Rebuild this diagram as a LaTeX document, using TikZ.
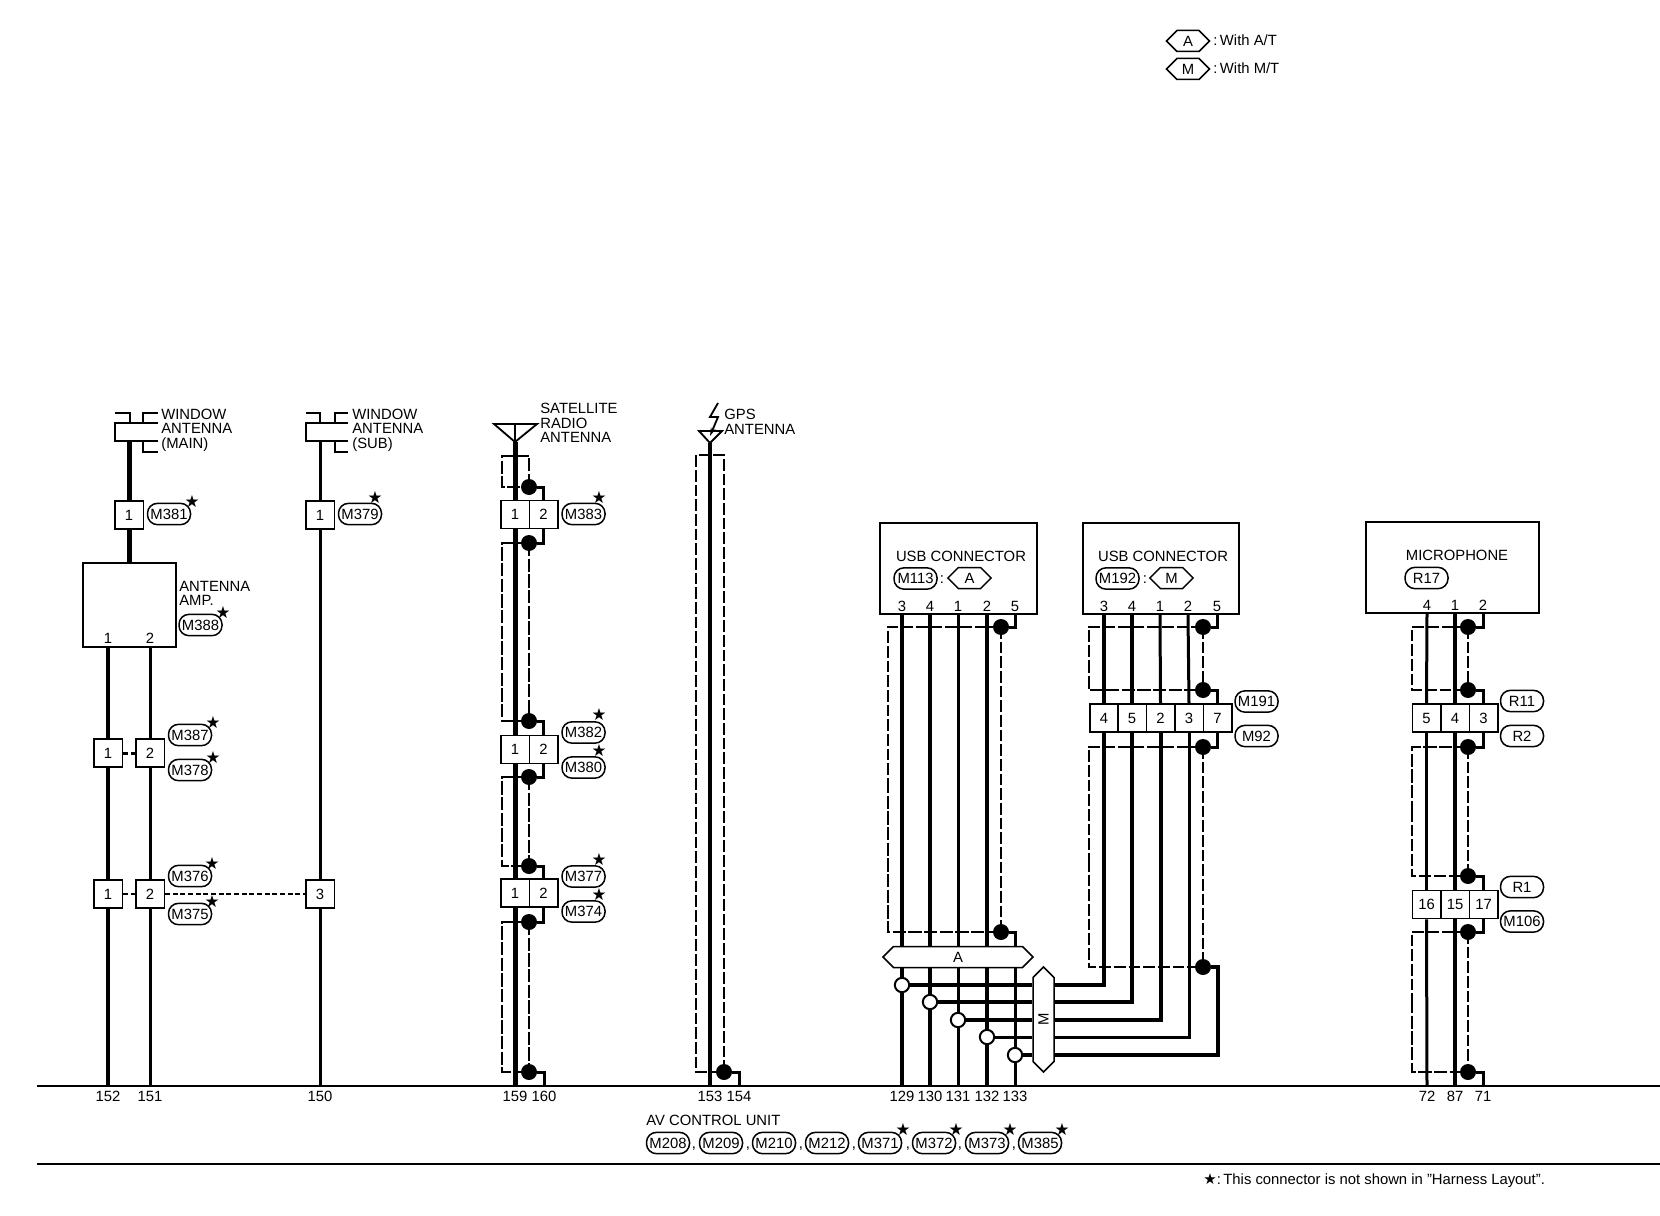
\documentclass[tikz,border=0pt]{standalone}
\usepackage{fontspec}
\setmainfont{Liberation Sans}
\newfontfamily\symfont{DejaVu Sans}
\usetikzlibrary{shapes, shapes.symbols, arrows.meta, positioning, calc}

\begin{document}
\begin{tikzpicture}[
  x=0.6pt, y=-0.6pt,
  every node/.style={font=\fontsize{8.9}{8.7}\selectfont, inner sep=0pt},
  cell/.style={draw, fill=white, line width=0.9pt, minimum width=17.1pt, minimum height=16.8pt},
  pill/.style={draw, fill=white, line width=0.9pt, rounded corners=6pt, minimum width=25.8pt, minimum height=12.8pt},
  hexa/.style={draw, fill=white, line width=0.9pt, signal, signal to=west and east, signal pointer angle=90, minimum height=12.6pt},
  unitbox/.style={draw, line width=1.3pt},
  starmark/.style={font=\symfont\fontsize{10}{10}\selectfont},
  txt/.style={anchor=west, align=left},
  dotj/.style={circle, fill=black, minimum size=9.6pt},
  doto/.style={circle, draw, fill=white, line width=1.2pt, minimum size=8.6pt},
  heavy/.style={line width=3pt},
  mid/.style={line width=2.4pt},
  lite/.style={line width=1.8pt},
  shieldthin/.style={line width=0.7pt, dash pattern=on 8pt off 1.4pt},
  shieldthick/.style={line width=1.3pt, dash pattern=on 7pt off 1.8pt},
  rail/.style={line width=1.1pt}
]
  \useasboundingbox (0,0) rectangle (1660,1216);

  % Legend
  \node[hexa, minimum width=25.8pt] (lgA) at (1188,41) {A};
  \node[hexa, minimum width=25.8pt] (lgM) at (1188,69) {M};
  \node[txt] (lgAt) at (1213,40) {:\hspace{1.5pt}With A/T};
  \node[txt] (lgMt) at (1213,68) {:\hspace{1.5pt}With M/T};

  % Bottom lines
  \coordinate (baseL) at (37,1086);
  \coordinate (baseR) at (1660,1086);
  \coordinate (footL) at (37,1164);
  \coordinate (footR) at (1660,1164);
  \draw[line width=0.9pt] (baseL) -- (baseR);
  \draw[line width=1.4pt] (footL) -- (footR);

  % Pin numbers of the control unit
  \node (l152) at (108,1096) {152};
  \node (l151) at (150,1096) {151};
  \node (l150) at (320,1096) {150};
  \node (l159) at (515,1096) {159};
  \node (l160) at (544,1096) {160};
  \node (l153) at (710,1096) {153};
  \node (l154) at (739,1096) {154};
  \node (l129) at (902,1096) {129};
  \node (l130) at (930,1096) {130};
  \node (l131) at (958,1096) {131};
  \node (l132) at (987,1096) {132};
  \node (l133) at (1015,1096) {133};
  \node (l72) at (1427,1096) {72};
  \node (l87) at (1455,1096) {87};
  \node (l71) at (1483,1096) {71};

  % Control unit
  \node[txt] (avcu) at (646,1120) {AV CONTROL UNIT};
  \node[pill] (m208) at (668,1143) {M208};
  \node (cm1) at (694,1149) {,};
  \node[pill] (m209) at (721,1143) {M209};
  \node (cm2) at (748,1149) {,};
  \node[pill] (m210) at (774,1143) {M210};
  \node (cm3) at (801,1149) {,};
  \node[pill] (m212) at (827,1143) {M212};
  \node (cm4) at (854,1149) {,};
  \node[pill] (m371) at (880,1143) {M371};
  \node[starmark] (s371) at (903,1130) {★};
  \node (cm5) at (908,1149) {,};
  \node[pill] (m372) at (934,1143) {M372};
  \node[starmark] (s372) at (956,1130) {★};
  \node (cm6) at (960,1149) {,};
  \node[pill] (m373) at (987,1143) {M373};
  \node[starmark] (s373) at (1010,1130) {★};
  \node (cm7) at (1014,1149) {,};
  \node[pill] (m385) at (1040,1143) {M385};
  \node[starmark] (s385) at (1062,1130) {★};
  \node[txt] (note) at (1203,1181) {{\symfont\fontsize{9}{9}\selectfont ★}:\hspace{1.5pt}This connector is not shown in "Harness Layout".};

  % Window antenna (main)
  \draw[rail] (115,413) -| (130,423);
  \draw[rail] (158,413) -| (143,423);
  \draw[rail] (158,423) -- (115,423) -- (115,441) -- (158,441);
  \draw[rail] (143,441) |- (158,452);
  \coordinate (winM) at (129,441);
  \node[txt, align=left] (winMt) at (161,430) {WINDOW\\ANTENNA\\(MAIN)};
  \node[cell] (c381) at (129,515) {1};
  \node[pill] (m381) at (169,514) {M381};
  \node[starmark] (s381) at (192,502) {★};
  \draw[heavy] (winM) -- (c381.north);

  % Antenna amp
  \node[unitbox, minimum width=55.8pt, minimum height=50.4pt] (amp) at (129.5,605) {};
  \node (amp1) at (108,638) {1};
  \node (amp2) at (150,638) {2};
  \node[txt, align=left] (ampt) at (179,593) {ANTENNA\\[-0.3pt]AMP.};
  \node[pill] (m388) at (200.5,625) {M388};
  \node[starmark] (s388) at (223,613) {★};
  \draw[heavy] (c381.south) -- (c381 |- amp.north);

  % Connectors below the amp
  \node[cell] (c387a) at (108,753) {1};
  \node[cell] (c387b) at (150,753) {2};
  \node[pill] (m387) at (190,735) {M387};
  \node[starmark] (s387) at (213,723) {★};
  \node[pill] (m378) at (190,770) {M378};
  \node[starmark] (s378) at (213,758) {★};
  \node[cell] (c376a) at (108,894) {1};
  \node[cell] (c376b) at (150,894) {2};
  \node[pill] (m376) at (190,876) {M376};
  \node[starmark] (s376) at (212,864) {★};
  \node[pill] (m375) at (190,914) {M375};
  \node[starmark] (s375) at (212,902) {★};
  \node[cell] (c375c) at (320,894) {3};
  \draw[mid] (amp1 |- amp.south) -- (c387a.north);
  \draw[mid] (c387a.south) -- (c376a.north);
  \draw[mid] (c376a.south) -- (l152 |- baseL);
  \draw[lite] (amp2 |- amp.south) -- (c387b.north);
  \draw[lite] (c387b.south) -- (c376b.north);
  \draw[lite] (c376b.south) -- (l151 |- baseL);
  \draw[lite, dash pattern=on 3pt off 2pt] (c387a.east) -- (c387b.west);
  \draw[line width=1.1pt, dash pattern=on 3pt off 1.6pt] (c376a.east) -- (c376b.west);
  \draw[line width=1.1pt, dash pattern=on 3pt off 1.6pt] (c376b.east) -- (c375c.west);

  % Window antenna (sub)
  \draw[rail] (306,413) -| (320,423);
  \draw[rail] (348,413) -| (335,423);
  \draw[rail] (348,423) -- (306,423) -- (306,441) -- (348,441);
  \draw[rail] (335,441) |- (348,452);
  \coordinate (winS) at (320,441);
  \node[txt, align=left] (winSt) at (352,430) {WINDOW\\ANTENNA\\(SUB)};
  \node[cell] (c379) at (320,515) {1};
  \node[pill] (m379) at (360,514) {M379};
  \node[starmark] (s379) at (375,498) {★};
  \draw[lite] (winS) -- (c379.north);
  \draw[lite] (c379.south) -- (c375c.north);
  \draw[lite] (c375c.south) -- (l150 |- baseL);

  % Satellite radio antenna
  \coordinate (aS) at (515,442);
  \draw[rail] (494,424) -- (537,424) -- (aS) -- cycle;
  \draw[rail] (515,424) -- (aS);
  \node[txt, align=left] (satt) at (540,423) {SATELLITE\\RADIO\\ANTENNA};
  \node[cell] (cS11) at (515,514.5) {1};
  \node[cell] (cS12) at (543.5,514.5) {2};
  \node[pill] (m383) at (583.5,514) {M383};
  \node[starmark] (s383) at (599,498) {★};
  \node[cell] (cS21) at (515,749.5) {1};
  \node[cell] (cS22) at (543.5,749.5) {2};
  \node[pill] (m382) at (583.5,732.5) {M382};
  \node[starmark] (s382) at (599,715) {★};
  \node[pill] (m380) at (583.5,767.5) {M380};
  \node[starmark] (s380) at (599,751) {★};
  \node[cell] (cS31) at (515,893) {1};
  \node[cell] (cS32) at (543.5,893) {2};
  \node[pill] (m377) at (583.5,876.5) {M377};
  \node[starmark] (s377) at (599,860) {★};
  \node[pill] (m374) at (583.5,911.5) {M374};
  \node[starmark] (s374) at (599,895) {★};
  \node[dotj] (dS1) at (529,487) {};
  \node[dotj] (dS2) at (529,543) {};
  \node[dotj] (dS3) at (529,721) {};
  \node[dotj] (dS4) at (529,777) {};
  \node[dotj] (dS5) at (529,866) {};
  \node[dotj] (dS6) at (529,922) {};
  \node[dotj] (dS7) at (529,1072) {};
  \coordinate (sS1) at (502,456);
  \coordinate (sS2) at (502,632);
  \coordinate (sS3) at (502,820);
  \coordinate (sS4) at (502,1000);
  \draw[shieldthin] (dS1.center) |- (sS1) |- (dS1.center);
  \draw[shieldthin] (dS2.center) -- (dS3.center);
  \draw[shieldthin] (dS2.center) -| (sS2) |- (dS3.center);
  \draw[shieldthin] (dS4.center) -- (dS5.center);
  \draw[shieldthin] (dS4.center) -| (sS3) |- (dS5.center);
  \draw[shieldthin] (dS6.center) -- (dS7.center);
  \draw[shieldthin] (dS6.center) -| (sS4) |- (dS7.center);
  \draw[heavy] (aS) -- (cS11.north);
  \draw[heavy] (cS11.south) -- (cS21.north);
  \draw[heavy] (cS21.south) -- (cS31.north);
  \draw[heavy] (cS31.south) -- (l159 |- baseL);
  \draw[lite] (dS1) -| (cS12.north);
  \draw[lite] (cS12.south) |- (dS2);
  \draw[lite] (dS3) -| (cS22.north);
  \draw[lite] (cS22.south) |- (dS4);
  \draw[lite] (dS5) -| (cS32.north);
  \draw[lite] (cS32.south) |- (dS6);
  \draw[lite] (dS7) -| (l160 |- baseL);

  % GPS antenna
  \coordinate (aG) at (710,443);
  \draw[rail] (699,431) -- (722,431) -- (aG) -- cycle;
  \draw[rail, -{Stealth[length=5pt,width=3pt]}] (718,403) -- (710,417) -- (718,417) -- (710,436);
  \node[txt, align=left] (gpst) at (724,422) {GPS\\ANTENNA};
  \node[dotj] (dG) at (724,1072) {};
  \coordinate (sG) at (696,455);
  \draw[shieldthick, line width=1.1pt] (dG.center) |- (sG) |- (dG.center);
  \draw[mid] (aG) -- (l153 |- baseL);
  \draw[lite] (dG) -| (l154 |- baseL);

  % USB connector A
  \node[unitbox, minimum width=94.2pt, minimum height=54.6pt] (usbA) at (958.5,568.5) {};
  \node (usbAt) at (961,556) {USB CONNECTOR};
  \node[pill] (m113) at (915.5,578.5) {M113};
  \node (usbAc) at (942,580) {:};
  \node[hexa, minimum width=26pt] (usbAh) at (969.5,578) {A};
  \node (uA3) at (902,606) {3};
  \node (uA4) at (930,606) {4};
  \node (uA1) at (958,606) {1};
  \node (uA2) at (987,606) {2};
  \node (uA5) at (1015,606) {5};
  \node[hexa, minimum width=90pt] (hexA) at (958,957) {A};

  % USB connector M
  \node[unitbox, minimum width=93.6pt, minimum height=54.6pt] (usbM) at (1161,568.5) {};
  \node (usbMt) at (1163,556) {USB CONNECTOR};
  \node[pill] (m192) at (1117.5,578.5) {M192};
  \node (usbMc) at (1145,580) {:};
  \node[hexa, minimum width=26pt] (usbMh) at (1171.5,578) {M};
  \node (uM3) at (1104,606) {3};
  \node (uM4) at (1132,606) {4};
  \node (uM1) at (1160,606) {1};
  \node (uM2) at (1188,606) {2};
  \node (uM5) at (1217,606) {5};
  \node[cell] (cM1) at (1104,718) {4};
  \node[cell] (cM2) at (1132,718) {5};
  \node[cell] (cM3) at (1160.5,718) {2};
  \node[cell] (cM4) at (1189,718) {3};
  \node[cell] (cM5) at (1217.5,718) {7};
  \node[pill] (m191) at (1256.5,701.5) {M191};
  \node[pill] (m92) at (1256.5,736) {M92};
  \node[hexa, rotate=90, minimum width=63pt] (hexM) at (1043.5,1019.5) {M};

  % Open junctions
  \node[doto] (c1) at (902,985) {};
  \node[doto] (c2) at (930,1002) {};
  \node[doto] (c3) at (958,1020) {};
  \node[doto] (c4) at (987,1037) {};
  \node[doto] (c5) at (1015,1055) {};

  % Shield of connector A
  \node[dotj] (dA1) at (1001,627) {};
  \node[dotj] (dA2) at (1001,932) {};
  \coordinate (sA) at (888,780);
  \draw[shieldthick] (dA1.center) -| (sA);
  \draw[shieldthin] (sA) |- (dA2.center);
  \draw[shieldthick] (dA1.center) -- (dA2.center);

  % Shield of connector M
  \node[dotj] (dM1) at (1203,627) {};
  \node[dotj] (dM2) at (1203,690) {};
  \node[dotj] (dM3) at (1203,747) {};
  \node[dotj] (dM4) at (1203,967) {};
  \coordinate (sM1) at (1089,660);
  \coordinate (sM2) at (1089,860);
  \draw[shieldthick] (dM1.center) -- (dM2.center);
  \draw[shieldthick] (dM1.center) -| (sM1);
  \draw[shieldthin] (sM1) |- (dM2.center);
  \draw[shieldthick] (dM3.center) -- (dM4.center);
  \draw[shieldthick] (dM3.center) -| (sM2);
  \draw[shieldthick] (sM2) |- (dM4.center);

  % Wires of connector A
  \draw[mid] (uA3 |- usbA.south) -- (uA3 |- hexA.north);
  \draw[mid] (uA4 |- usbA.south) -- (uA4 |- hexA.north);
  \draw[lite] (uA1 |- usbA.south) -- (uA1 |- hexA.north);
  \draw[mid] (uA2 |- usbA.south) -- (uA2 |- hexA.north);
  \draw[lite] (dA1) -| (uA5 |- usbA.south);
  \draw[lite] (dA2) -| (uA5 |- hexA.north);
  \draw[mid] (uA3 |- hexA.south) -- (c1.north);
  \draw[mid] (uA4 |- hexA.south) -- (c2.north);
  \draw[lite] (uA1 |- hexA.south) -- (c3.north);
  \draw[mid] (uA2 |- hexA.south) -- (c4.north);
  \draw[lite] (uA5 |- hexA.south) -- (c5.north);
  \draw[mid] (c1.south) -- (l129 |- baseL);
  \draw[mid] (c2.south) -- (l130 |- baseL);
  \draw[lite] (c3.south) -- (l131 |- baseL);
  \draw[mid] (c4.south) -- (l132 |- baseL);
  \draw[lite] (c5.south) -- (l133 |- baseL);

  % Wires through hex M
  \draw[mid] (c1.east) -- (c1 -| hexM.north);
  \draw[mid] (c2.east) -- (c2 -| hexM.north);
  \draw[mid] (c3.east) -- (c3 -| hexM.north);
  \draw[lite] (c4.east) -- (c4 -| hexM.north);
  \draw[mid] (c5.east) -- (c5 -| hexM.north);
  \draw[mid] (c1 -| hexM.south) -| (cM1.south);
  \draw[mid] (c2 -| hexM.south) -| (cM2.south);
  \draw[mid] (c3 -| hexM.south) -| (cM3.south);
  \draw[lite] (c4 -| hexM.south) -| (cM4.south);
  \draw[mid] (c5 -| hexM.south) -- (c5 -| cM5) -- (cM5 |- dM4) -- (dM4);

  % Wires of connector M
  \draw[mid] (uM3 |- usbM.south) -- (cM1.north);
  \draw[mid] (uM4 |- usbM.south) -- (cM2.north);
  \draw[lite] (uM1 |- usbM.south) -- (cM3.north);
  \draw[lite] (uM2 |- usbM.south) -- (cM4.north);
  \draw[lite] (dM1) -| (uM5 |- usbM.south);
  \draw[lite] (dM2) -| (cM5.north);
  \draw[lite] (cM5.south) |- (dM3);

  % Microphone
  \node[unitbox, minimum width=103.8pt, minimum height=54.6pt] (mic) at (1452.5,567.5) {};
  \node (mict) at (1457,555) {MICROPHONE};
  \node[pill] (r17) at (1426.5,578) {R17};
  \node (uR4) at (1427,605) {4};
  \node (uR1) at (1455,605) {1};
  \node (uR2) at (1483,605) {2};
  \node[cell] (cR11) at (1426.5,718) {5};
  \node[cell] (cR12) at (1455,718) {4};
  \node[cell] (cR13) at (1483.5,718) {3};
  \node[pill] (r11) at (1522,701) {R11};
  \node[pill] (r2) at (1522,736) {R2};
  \node[cell] (cR21) at (1426.5,904.5) {16};
  \node[cell] (cR22) at (1455,904.5) {15};
  \node[cell] (cR23) at (1483.5,904.5) {17};
  \node[pill] (r1) at (1522,887) {R1};
  \node[pill] (m106) at (1522,921.5) {M106};
  \node[dotj] (dR1) at (1468,627) {};
  \node[dotj] (dR2) at (1468,690) {};
  \node[dotj] (dR3) at (1468,747) {};
  \node[dotj] (dR4) at (1468,876) {};
  \node[dotj] (dR5) at (1468,932) {};
  \node[dotj] (dR6) at (1468,1072) {};
  \coordinate (sR1) at (1412,660);
  \coordinate (sR2) at (1412,810);
  \coordinate (sR3) at (1412,1000);
  \draw[shieldthick] (dR1.center) -- (dR2.center);
  \draw[shieldthick] (dR1.center) -| (sR1) |- (dR2.center);
  \draw[shieldthick] (dR3.center) -- (dR4.center);
  \draw[shieldthin] (dR3.center) -| (sR2);
  \draw[shieldthick] (sR2) |- (dR4.center);
  \draw[shieldthick] (dR5.center) -- (dR6.center);
  \draw[shieldthick] (dR5.center) -| (sR3);
  \draw[shieldthin] (sR3) |- (dR6.center);
  \draw[lite] (uR4 |- mic.south) -- (cR11.north);
  \draw[lite] (cR11.south) -- (cR21.north);
  \draw[lite] (cR21.south) -- (l72 |- baseL);
  \draw[mid] (uR1 |- mic.south) -- (cR12.north);
  \draw[mid] (cR12.south) -- (cR22.north);
  \draw[mid] (cR22.south) -- (l87 |- baseL);
  \draw[lite] (dR1) -| (uR2 |- mic.south);
  \draw[lite] (dR2) -| (cR13.north);
  \draw[lite] (cR13.south) |- (dR3);
  \draw[lite] (dR4) -| (cR23.north);
  \draw[lite] (cR23.south) |- (dR5);
  \draw[lite] (dR6) -| (l71 |- baseL);
\end{tikzpicture}
\end{document}
